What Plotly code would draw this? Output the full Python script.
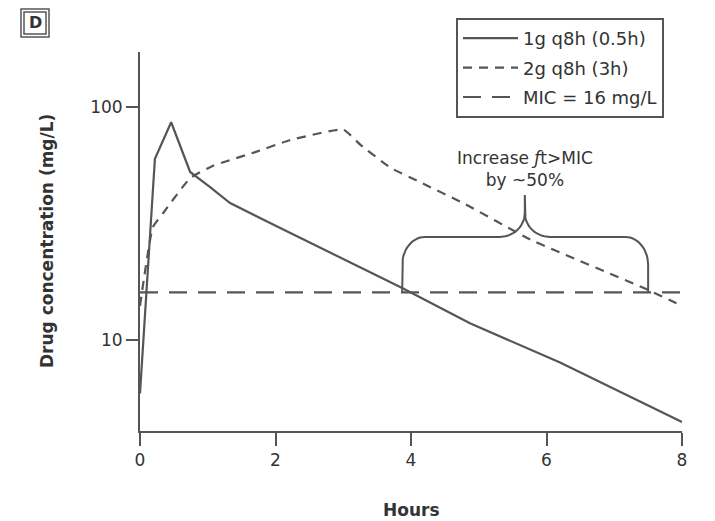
import numpy as np
import plotly.graph_objects as go

# ---------------- data ----------------
hours_1g = [0, 0.22, 0.46, 0.74, 1.03, 1.33, 1.92, 3.87, 4.87, 6.2, 8.0]
conc_1g = [5.9, 60, 86, 52.6, 45.4, 38.7, 31.8, 16.7, 11.8, 8.0, 4.45]

hours_2g = [0, 0.19, 0.34, 0.74, 1.08, 1.70, 2.21, 3.0, 3.25, 3.69, 4.13, 4.77, 5.76, 7.5, 8.0]
conc_2g = [14, 30.5, 35, 49.5, 56, 64, 72, 80, 69, 55, 47.6, 38.7, 27, 16.4, 14]

mic_hours = [0, 8]
mic_conc = [16, 16]

x_ticks = [0, 2, 4, 6, 8]
y_ticks = [10, 100]
y_tick_labels = ["10", "100"]

series_names = ["1g q8h (0.5h)", "2g q8h (3h)", "MIC = 16 mg/L"]

# brace: from where the 1 g curve falls below MIC to where the 2 g curve does
brace_left_h = 3.87
brace_right_h = 7.5
brace_mid_h = 5.68
brace_level = 27.7
brace_tip = 41.9
annot_text = "Increase <i>ƒ</i>t&gt;MIC<br>by ~50%"

# ---------------- layout geometry ----------------
W, H = 715, 521
L, R, T, B = 140, 33, 52, 90
PW, PH = W - L - R, H - T - B
Y_RANGE = [0.6094, 2.236]
X_RANGE = [0, 8]
HPX = PW / (X_RANGE[1] - X_RANGE[0])       # px per hour
LPX = PH / (Y_RANGE[1] - Y_RANGE[0])       # px per log-decade

def px_to_paper(px, py):
    return (px - L) / PW, (H - B - py) / PH

LINE = "#555555"
TXT = "#333333"
FONT = "DejaVu Sans"

fig = go.Figure()
fig.add_trace(go.Scatter(x=hours_1g, y=conc_1g, mode="lines", name=series_names[0],
                         line=dict(color=LINE, width=2.2), legendgroup="a"))
fig.add_trace(go.Scatter(x=hours_2g, y=conc_2g, mode="lines", name=series_names[1],
                         line=dict(color=LINE, width=2.2, dash="9px,7px", shape="spline",
                                   smoothing=0.4), legendgroup="b"))
fig.add_trace(go.Scatter(x=mic_hours, y=mic_conc, mode="lines", name=series_names[2],
                         line=dict(color=LINE, width=2.2, dash="18px,11px"), legendgroup="c"))

# ---- curly brace built in log space ----
def brace(xl, xr, xm, base, level, tip):
    lb, ll, lt = np.log10(base), np.log10(level), np.log10(tip)
    rx, ry = 23 / HPX, 28 / LPX        # outer corner radii
    mx, my = 25 / HPX, 24 / LPX        # inner (cusp) radii
    xs, ys = [], []
    xs += [xl]; ys += [lb]
    th = np.linspace(np.pi, np.pi / 2, 15)
    xs += list(xl + rx + rx * np.cos(th)); ys += list(ll - ry + ry * np.sin(th))
    ph = np.linspace(0, np.pi / 2, 15)
    xs += list(xm - mx + mx * np.sin(ph)); ys += list(ll + my - my * np.cos(ph))
    xs += [xm, xm, xm]; ys += [ll + my, lt, ll + my]
    xs += list(xm + mx - mx * np.cos(ph)); ys += list(ll + my - my * np.sin(ph))
    th2 = np.linspace(np.pi / 2, 0, 15)
    xs += list(xr - rx + rx * np.cos(th2)); ys += list(ll - ry + ry * np.sin(th2))
    xs += [xr]; ys += [lb]
    return xs, [10 ** v for v in ys]

bx, by = brace(brace_left_h, brace_right_h, brace_mid_h, mic_conc[0], brace_level, brace_tip)
fig.add_trace(go.Scatter(x=bx, y=by, mode="lines", showlegend=False, hoverinfo="skip",
                         line=dict(color=LINE, width=2)))

fig.add_annotation(x=brace_mid_h, y=1.734, xref="x", yref="y", text=annot_text,
                   showarrow=False, xanchor="center", yanchor="middle",
                   font=dict(family=FONT, size=17, color=TXT))

# ---- panel label "D" ----
for (a, b, c, d) in [(21, 9, 49, 37), (24, 12, 46, 34)]:
    x0, y1 = px_to_paper(a, b)
    x1, y0 = px_to_paper(c, d)
    fig.add_shape(type="rect", xref="paper", yref="paper", x0=x0, x1=x1, y0=y0, y1=y1,
                  line=dict(color=LINE, width=1.5))
lx, ly = px_to_paper(35, 23)
fig.add_annotation(x=lx, y=ly, xref="paper", yref="paper", text="<b>D</b>", showarrow=False,
                   xanchor="center", yanchor="middle", font=dict(family=FONT, size=16, color=TXT))

# ---- axis titles ----
tx, ty = px_to_paper(47, 241)
fig.add_annotation(x=tx, y=ty, xref="paper", yref="paper", text="<b>Drug concentration (mg/L)</b>",
                   textangle=-90, showarrow=False, xanchor="center", yanchor="middle",
                   font=dict(family=FONT, size=17, color=TXT))
hx, hy = px_to_paper(411, 510)
fig.add_annotation(x=hx, y=hy, xref="paper", yref="paper", text="<b>Hours</b>",
                   showarrow=False, xanchor="center", yanchor="middle",
                   font=dict(family=FONT, size=17, color=TXT))

lgx, lgy = px_to_paper(456, 18)
fig.update_layout(
    width=W, height=H, margin=dict(l=L, r=R, t=T, b=B, autoexpand=False),
    paper_bgcolor="white", plot_bgcolor="white",
    font=dict(family=FONT, size=16, color=TXT),
    showlegend=True,
    legend=dict(x=lgx, y=lgy, xanchor="left", yanchor="top", bordercolor=LINE, borderwidth=2,
                bgcolor="white", tracegroupgap=3, itemwidth=55,
                font=dict(family=FONT, size=18, color=TXT), traceorder="grouped"),
    xaxis=dict(range=X_RANGE, tickvals=x_ticks, ticks="outside", ticklen=13, tickwidth=2,
               tickcolor=LINE, showline=True, linecolor=LINE, linewidth=2, showgrid=False,
               zeroline=False, tickfont=dict(family=FONT, size=17, color=TXT)),
    yaxis=dict(type="log", range=Y_RANGE, tickvals=y_ticks, ticktext=y_tick_labels,
               ticks="outside", ticklen=12, tickwidth=2, tickcolor=LINE, showline=True,
               linecolor=LINE, linewidth=2, showgrid=False, zeroline=False,
               tickfont=dict(family=FONT, size=17, color=TXT)),
)

fig.write_html("out.html")
